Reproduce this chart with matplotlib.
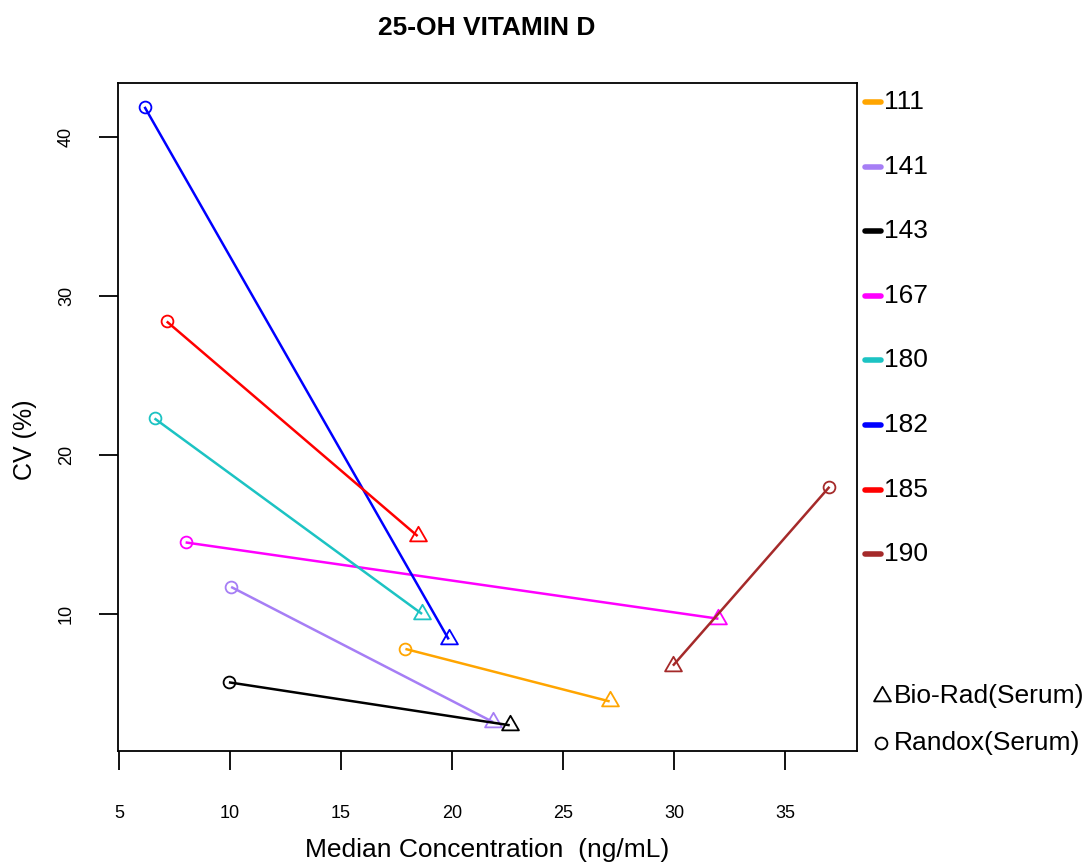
import matplotlib.pyplot as plt
import numpy as np
from matplotlib.lines import Line2D
from matplotlib.path import Path

plt.rcParams['font.family'] = ['Liberation Sans', 'DejaVu Sans']

## lab data: median concentration and CV for the two control materials
labs = ['111', '141', '143', '167', '180', '182', '185', '190']
colors = ['#FFA500', '#A67EF5', '#000000', '#FF00FF', '#1CC3C3', '#0000FF', '#FF0000', '#A52A2A']
randox_conc = [17.9, 10.05, 9.95, 8.0, 6.6, 6.15, 7.15, 37.0]
randox_cv = [7.8, 11.7, 5.7, 14.5, 22.3, 41.9, 28.4, 18.0]
biorad_conc = [27.1, 21.85, 22.6, 32.0, 18.65, 19.85, 18.45, 29.95]
biorad_cv = [4.5, 3.2, 3.0, 9.7, 10.0, 8.4, 14.9, 6.75]

W, H = 1091, 865
fig = plt.figure(figsize=(W / 100, H / 100), dpi=100)
ax = fig.add_axes([118 / W, (H - 751) / H, (857 - 118) / W, (751 - 83) / H])

# equilateral triangle, centred on its centroid
tri = Path([(-0.5, -0.289), (0.5, -0.289), (0, 0.577), (-0.5, -0.289)],
           [Path.MOVETO, Path.LINETO, Path.LINETO, Path.CLOSEPOLY])

for i in range(len(labs)):
    ax.plot([randox_conc[i], biorad_conc[i]], [randox_cv[i], biorad_cv[i]],
            color=colors[i], lw=1.8, solid_capstyle='butt')
    ax.plot(randox_conc[i], randox_cv[i], marker='o', ms=8.5, mfc='none',
            mec=colors[i], mew=1.3, ls='none')
    ax.plot(biorad_conc[i], biorad_cv[i], marker=tri, ms=14, mfc='none',
            mec=colors[i], mew=1.3, ls='none')

ax.set_xlim(4.955, 38.24)
ax.set_ylim(1.38, 43.4)
ax.set_xticks([5, 10, 15, 20, 25, 30, 35])
ax.set_yticks([10, 20, 30, 40])
ax.tick_params(axis='x', length=14, width=1.3, pad=25, labelsize=13)
ax.tick_params(axis='y', length=14, width=1.3, pad=17, labelsize=13)
plt.setp(ax.get_yticklabels(), rotation=90, va='center')
for s in ax.spines.values():
    s.set_linewidth(1.3)

ax.set_xlabel('Median Concentration  (ng/mL)', fontsize=19)
ax.xaxis.set_label_coords(0.5, -0.13)
ax.set_ylabel('CV (%)', fontsize=18)
ax.yaxis.set_label_coords(-0.11, 0.466)

fig.text(487 / W, 1 - 28 / H, '25-OH VITAMIN D', ha='center', va='center',
         fontsize=19, fontweight='bold')

## lab legend, right of the plot
for i, lab in enumerate(labs):
    y = 1 - (102 + i * 64.6) / H
    fig.add_artist(Line2D([865 / W, 881 / W], [y, y], color=colors[i], lw=4,
                          solid_capstyle='round', transform=fig.transFigure))
    fig.text(884 / W, y, lab, ha='left', va='center', fontsize=19)

## marker legend
fig.add_artist(Line2D([882 / W], [1 - 696 / H], marker=tri, ms=14, mfc='none',
                      mec='black', mew=1.3, transform=fig.transFigure))
fig.text(894 / W, 1 - 696 / H, 'Bio-Rad(Serum)', ha='left', va='center', fontsize=19)
fig.add_artist(Line2D([881 / W], [1 - 743 / H], marker='o', ms=8.5, mfc='none',
                      mec='black', mew=1.3, transform=fig.transFigure))
fig.text(894 / W, 1 - 743 / H, 'Randox(Serum)', ha='left', va='center', fontsize=19)

fig.savefig('out.png', dpi=100)
